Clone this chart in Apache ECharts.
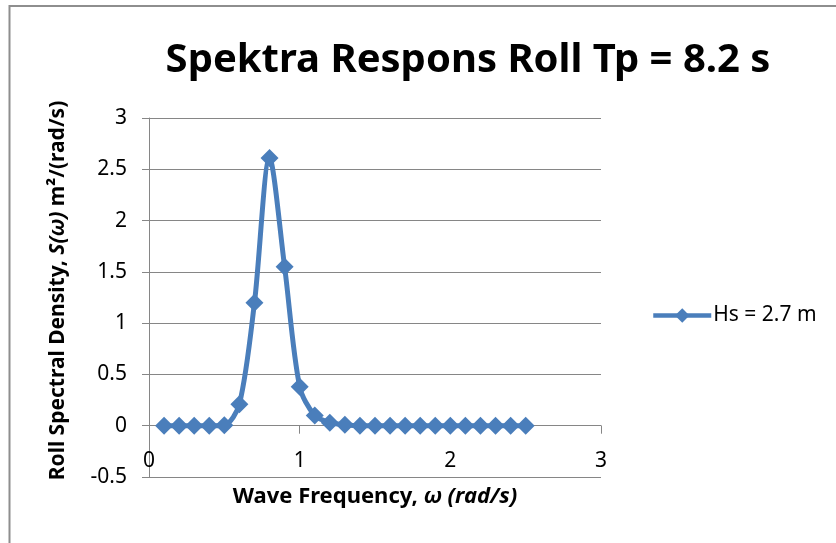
<!DOCTYPE html>
<html>
<head>
<meta charset="utf-8">
<script src="https://cdn.jsdelivr.net/npm/echarts@6/dist/echarts.min.js"></script>
<style>
  html, body { margin: 0; padding: 0; background: #fff; }
  #chart { width: 836px; height: 543px; }
</style>
</head>
<body>
<div id="chart"></div>
<script>
// Wave frequency (rad/s) and roll response spectrum values
const omega = [0.1, 0.2, 0.3, 0.4, 0.5, 0.6, 0.7, 0.8, 0.9, 1.0, 1.1, 1.2, 1.3,
               1.4, 1.5, 1.6, 1.7, 1.8, 1.9, 2.0, 2.1, 2.2, 2.3, 2.4, 2.5];
const rollSpectrum = [0, 0, 0, 0, 0.005, 0.21, 1.2, 2.61, 1.55, 0.38, 0.1, 0.03, 0.01,
                      0, 0, 0, 0, 0, 0, 0, 0, 0, 0, 0, 0];
const seriesName = 'Hs = 2.7 m';
const xTicks = [0, 1, 2, 3];
const yTicks = [-0.5, 0, 0.5, 1, 1.5, 2, 2.5, 3];

const FONT = '"Noto Sans", "Open Sans", sans-serif';
const BLUE = '#4A7EBB';
const GRID = '#868686';
const FRAME = '#8e8e8e';

// plot area in pixels
const GRID_TOP = 118, GRID_BOTTOM = 66, CHART_H = 543;
const yMin = yTicks[0], yMax = yTicks[yTicks.length - 1];
// lift the x axis from the bottom edge up to the y = 0 line
const plotH = CHART_H - GRID_TOP - GRID_BOTTOM;
const zeroOffset = -plotH * (0 - yMin) / (yMax - yMin);

const chart = echarts.init(document.getElementById('chart'), null, { renderer: 'canvas' });

chart.setOption({
  backgroundColor: '#fff',
  animation: false,
  textStyle: { fontFamily: FONT },
  graphic: [
    {
      type: 'polyline',
      shape: { points: [[9.5, 543], [9.5, 6], [836, 6]] },
      style: { fill: 'none', stroke: FRAME, lineWidth: 2 },
      silent: true
    }
  ],
  title: {
    text: 'Spektra Respons Roll Tp = 8.2 s',
    left: 463,
    top: 36,
    textAlign: 'center',
    textStyle: { fontFamily: FONT, fontSize: 40, fontWeight: 'bold', color: '#000' }
  },
  legend: {
    left: 646,
    top: 300,
    itemWidth: 58,
    itemHeight: 18,
    itemGap: 0,
    lineStyle: { width: 4.5 },
    textStyle: { fontFamily: FONT, fontSize: 21, color: '#000', padding: [0, 0, 0, -3] },
    data: [seriesName]
  },
  grid: { left: 149, right: 235, top: GRID_TOP, bottom: GRID_BOTTOM, containLabel: false, outerBoundsMode: 'none' },
  xAxis: {
    type: 'value',
    min: xTicks[0],
    max: xTicks[xTicks.length - 1],
    interval: 1,
    offset: zeroOffset,
    name: 'Wave Frequency, {i|ω (rad/s)}',
    nameLocation: 'middle',
    nameGap: 60,
    nameTextStyle: {
      fontFamily: FONT, fontSize: 22, fontWeight: 'bold', color: '#000',
      rich: { i: { fontFamily: FONT, fontSize: 22, fontWeight: 'bold', fontStyle: 'italic', color: '#000' } }
    },
    axisLine: { onZero: false, lineStyle: { color: GRID, width: 1 } },
    axisTick: { show: true, inside: false, length: 8, lineStyle: { color: GRID } },
    axisLabel: { margin: 25, fontFamily: FONT, fontSize: 21, color: '#000' },
    splitLine: { show: false }
  },
  yAxis: {
    type: 'value',
    min: yMin,
    max: yMax,
    interval: 0.5,
    name: 'Roll Spectral Density, {i|S(ω)} m²/(rad/s)',
    nameLocation: 'middle',
    nameGap: 80,
    nameRotate: 90,
    nameTextStyle: {
      fontFamily: FONT, fontSize: 21, fontWeight: 'bold', color: '#000',
      padding: [0, 0, 0, 14],
      rich: { i: { fontFamily: FONT, fontSize: 21, fontWeight: 'bold', fontStyle: 'italic', color: '#000' } }
    },
    axisLine: { show: true, lineStyle: { color: GRID, width: 1 } },
    axisTick: { show: true, inside: false, length: 7, lineStyle: { color: GRID } },
    axisLabel: { margin: 22, fontFamily: FONT, fontSize: 21, color: '#000' },
    splitLine: { show: true, lineStyle: { color: GRID, width: 1 } }
  },
  series: [{
    name: seriesName,
    type: 'line',
    smooth: 0.3,
    data: omega.map((w, i) => [w, rollSpectrum[i]]),
    symbol: 'diamond',
    symbolSize: 18,
    showAllSymbol: true,
    lineStyle: { color: BLUE, width: 5 },
    itemStyle: { color: BLUE },
    z: 3
  }]
});
</script>
</body>
</html>
